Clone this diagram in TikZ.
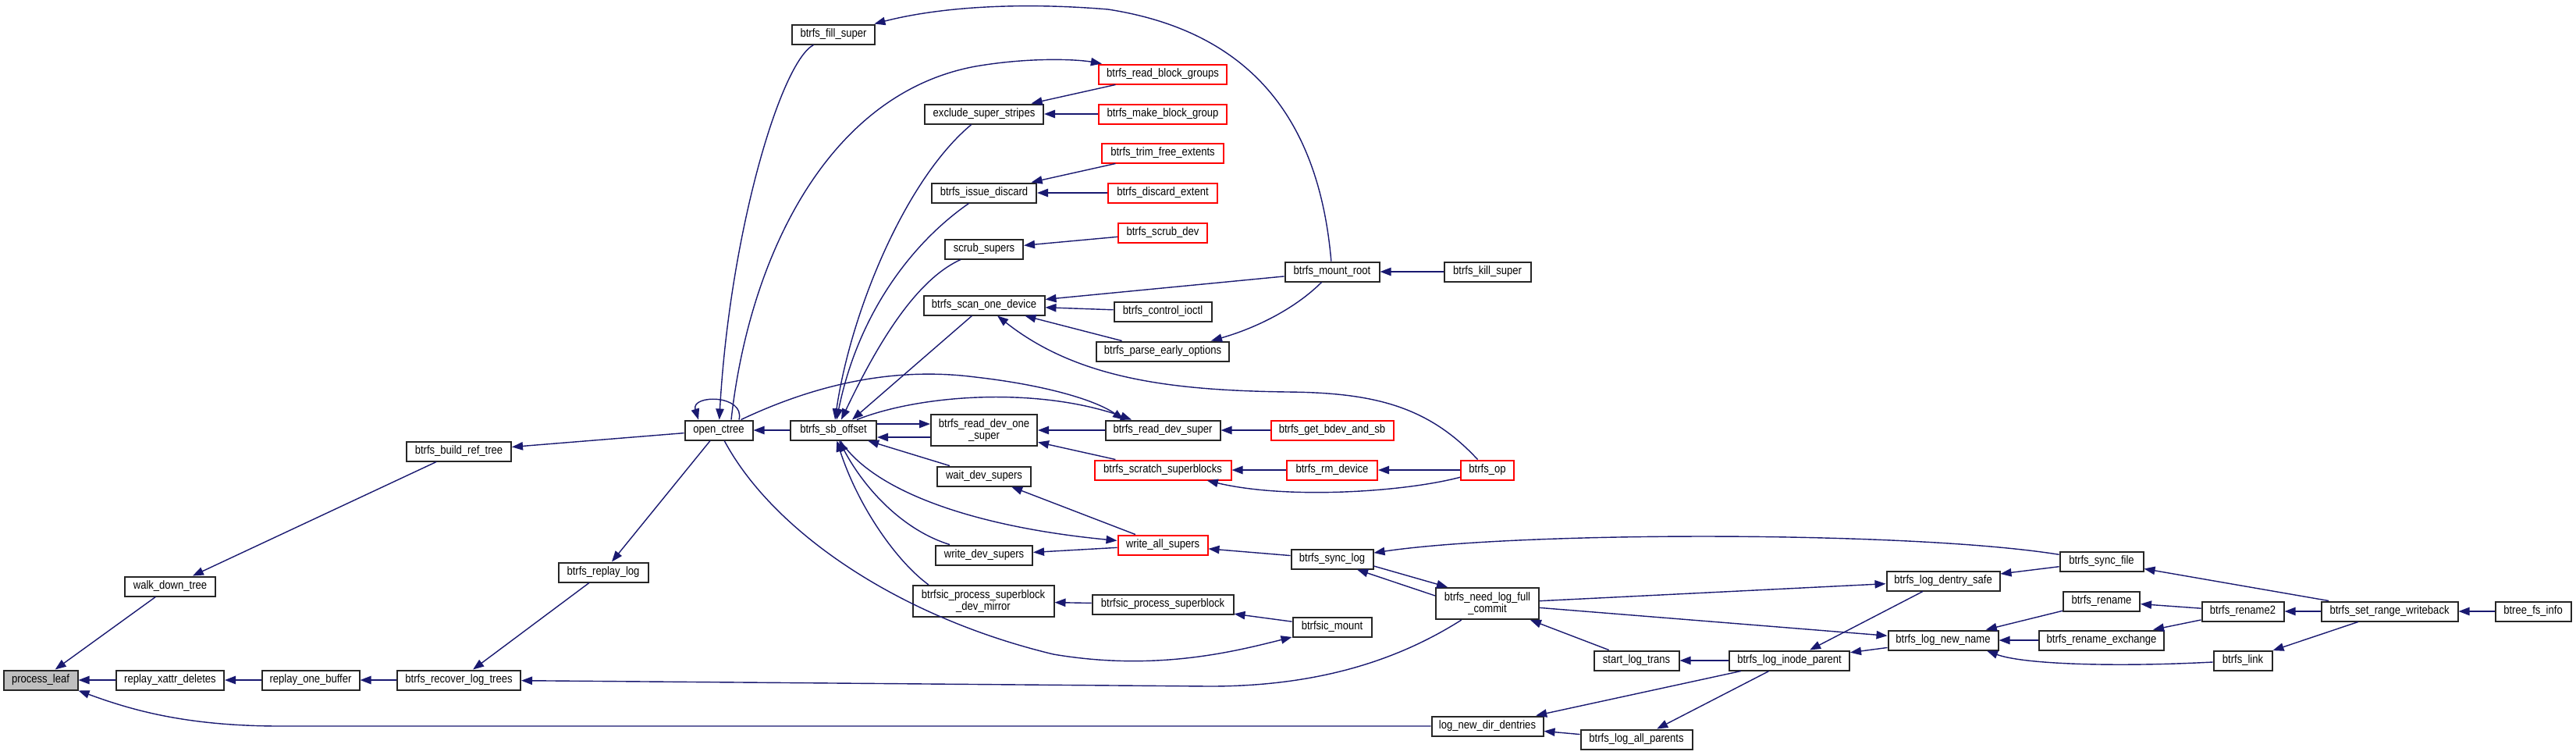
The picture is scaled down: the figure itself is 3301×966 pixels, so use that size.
\documentclass[tikz,border=0pt]{standalone}
\usepackage{fontspec}
\setmainfont{Liberation Sans}[FakeStretch=0.87]
\usepackage{tikz}
\usetikzlibrary{arrows.meta}
\definecolor{callEdge}{HTML}{191970}
\definecolor{rootFill}{HTML}{BFBFBF}
\colorlet{boxRed}{red}
\newcommand{\fnnode}[5][fn]{\node[#1,minimum width=#4*0.5pt] (#2) at (#3) {#5};}

\begin{document}
\begin{tikzpicture}[x=0.5pt,y=-0.5pt,>={Triangle[length=7pt,width=5.2pt]},
  fn/.style={draw=black!85,line width=1pt,fill=white,inner sep=0pt,minimum height=12.5pt,
    align=center,font=\fontsize{7.5}{7.2}\selectfont},
  fnred/.style={fn,draw=boxRed},
  fnroot/.style={fn,fill=rootFill},
  fn2/.style={fn,minimum height=20pt},
  call/.style={->,draw=callEdge,line width=0.7pt}]
\useasboundingbox (0,0) rectangle (3301,966);
% ranks 0-6
\fnnode[fnroot]{processLeaf}{52,871}{95}{process\_leaf}
\fnnode{walkDownTree}{218,751}{116}{walk\_down\_tree}
\fnnode{xattrDeletes}{218,871}{138}{replay\_xattr\_deletes}
\fnnode{oneBuffer}{398,871}{125}{replay\_one\_buffer}
\fnnode{buildRefTree}{588,578}{134}{btrfs\_build\_ref\_tree}
\fnnode{recoverLogTrees}{588,871}{158}{btrfs\_recover\_log\_trees}
\fnnode{replayLog}{773,733}{115}{btrfs\_replay\_log}
\fnnode{openCtree}{921,551}{87}{open\_ctree}
\fnnode{fillSuper}{1068,44}{106}{btrfs\_fill\_super}
\fnnode{sbOffset}{1068,551}{110}{btrfs\_sb\_offset}
% rank 7
\fnnode{excludeSuperStripes}{1261,146}{152}{exclude\_super\_stripes}
\fnnode{issueDiscard}{1261,247}{134}{btrfs\_issue\_discard}
\fnnode{scrubSupers}{1261,319}{100}{scrub\_supers}
\fnnode{scanOneDevice}{1261,391}{155}{btrfs\_scan\_one\_device}
\fnnode[fn2]{readDevOneSuper}{1261,551}{136}{btrfs\_read\_dev\_one\\\_super}
\fnnode{waitDevSupers}{1261,610}{120}{wait\_dev\_supers}
\fnnode{writeDevSupers}{1261,711}{124}{write\_dev\_supers}
\fnnode[fn2]{psDevMirror}{1260,770}{181}{btrfsic\_process\_superblock\\\_dev\_mirror}
% rank 8
\fnnode[fnred]{readBlockGroups}{1490,95}{164}{btrfs\_read\_block\_groups}
\fnnode[fnred]{makeBlockGroup}{1490,146}{164}{btrfs\_make\_block\_group}
\fnnode[fnred]{trimFreeExtents}{1490,196}{156}{btrfs\_trim\_free\_extents}
\fnnode[fnred]{discardExtent}{1490,247}{140}{btrfs\_discard\_extent}
\fnnode[fnred]{scrubDev}{1490,298}{114}{btrfs\_scrub\_dev}
\fnnode{controlIoctl}{1490,399}{125}{btrfs\_control\_ioctl}
\fnnode{parseEarlyOptions}{1490,450}{170}{btrfs\_parse\_early\_options}
\fnnode{readDevSuper}{1490,551}{147}{btrfs\_read\_dev\_super}
\fnnode[fnred]{scratchSuperblocks}{1490,602}{175}{btrfs\_scratch\_superblocks}
\fnnode[fnred]{writeAllSupers}{1490,698}{115}{write\_all\_supers}
\fnnode{processSuperblock}{1490,774}{181}{btrfsic\_process\_superblock}
% rank 9
\fnnode{mountRoot}{1707,348}{121}{btrfs\_mount\_root}
\fnnode[fnred]{getBdevAndSb}{1707,551}{157}{btrfs\_get\_bdev\_and\_sb}
\fnnode[fnred]{rmDevice}{1707,602}{116}{btrfs\_rm\_device}
\fnnode{syncLog}{1707,716}{105}{btrfs\_sync\_log}
\fnnode{btrfsicMount}{1707,803}{101}{btrfsic\_mount}
% rank 10
\fnnode{killSuper}{1906,348}{111}{btrfs\_kill\_super}
\fnnode[fnred]{btrfsOp}{1906,602}{68}{btrfs\_op}
\fnnode[fn2]{needLogFullCommit}{1906,773}{132}{btrfs\_need\_log\_full\\\_commit}
\fnnode{logNewDirDentries}{1906,930}{143}{log\_new\_dir\_dentries}
% ranks 11-17
\fnnode{startLogTrans}{2097,846}{109}{start\_log\_trans}
\fnnode{logAllParents}{2097,947}{143}{btrfs\_log\_all\_parents}
\fnnode{logInodeParent}{2293,846}{154}{btrfs\_log\_inode\_parent}
\fnnode{logDentrySafe}{2490,744}{145}{btrfs\_log\_dentry\_safe}
\fnnode{logNewName}{2490,820}{141}{btrfs\_log\_new\_name}
\fnnode{syncFile}{2693,719}{107}{btrfs\_sync\_file}
\fnnode{rename}{2693,770}{98}{btrfs\_rename}
\fnnode{renameExchange}{2693,820}{160}{btrfs\_rename\_exchange}
\fnnode{renameTwo}{2874,783}{105}{btrfs\_rename2}
\fnnode{link}{2874,846}{75}{btrfs\_link}
\fnnode{setRangeWriteback}{3062,783}{175}{btrfs\_set\_range\_writeback}
\fnnode{btreeFsInfo}{3246,783}{97}{btree\_fs\_info}
% straight calls
\foreach \a/\b in {xattrDeletes/processLeaf, walkDownTree/processLeaf, oneBuffer/xattrDeletes,
  recoverLogTrees/oneBuffer, buildRefTree/walkDownTree, openCtree/buildRefTree,
  replayLog/recoverLogTrees, openCtree/replayLog, sbOffset/openCtree,
  readDevSuper/readDevOneSuper, getBdevAndSb/readDevSuper, scratchSuperblocks/readDevOneSuper,
  rmDevice/scratchSuperblocks, btrfsOp/rmDevice, mountRoot/scanOneDevice,
  controlIoctl/scanOneDevice, parseEarlyOptions/scanOneDevice, killSuper/mountRoot,
  readBlockGroups/excludeSuperStripes, makeBlockGroup/excludeSuperStripes,
  trimFreeExtents/issueDiscard, discardExtent/issueDiscard, scrubDev/scrubSupers,
  waitDevSupers/sbOffset, writeAllSupers/waitDevSupers, writeAllSupers/writeDevSupers,
  syncLog/writeAllSupers, processSuperblock/psDevMirror, btrfsicMount/processSuperblock,
  syncFile/logDentrySafe, needLogFullCommit/logDentrySafe, needLogFullCommit/logNewName,
  startLogTrans/needLogFullCommit, logInodeParent/startLogTrans, logDentrySafe/logInodeParent,
  logNewName/logInodeParent, logInodeParent/logNewDirDentries, logInodeParent/logAllParents,
  logAllParents/logNewDirDentries, rename/logNewName, renameExchange/logNewName,
  renameTwo/rename, renameTwo/renameExchange, setRangeWriteback/renameTwo,
  setRangeWriteback/syncFile, setRangeWriteback/link, btreeFsInfo/setRangeWriteback}
  \draw[call] (\a) -- (\b);
% curved calls
\draw[call] (logNewDirDentries) -- (360,930) .. controls (240,930) and (170,910) .. (processLeaf.south east);
\draw[call] (needLogFullCommit) .. controls (1800,840) and (1700,879) .. (1550,879) -- (recoverLogTrees);
\draw[call] ([xshift=13pt]openCtree.north) .. controls (955,505) and (885,505) .. ([xshift=-13pt]openCtree.north);
\draw[call] (fillSuper) .. controls (1000,80) and (935,300) .. (openCtree);
\draw[call] (mountRoot) .. controls (1690,150) and (1600,40) .. (1420,12) .. controls (1300,2) and (1200,10) .. (fillSuper);
\draw[call] (openCtree) .. controls (990,680) and (1150,790) .. (1350,838) .. controls (1480,860) and (1580,835) .. (btrfsicMount);
\draw[call] (openCtree) .. controls (1050,490) and (1150,470) .. (1250,483) .. controls (1330,492) and (1400,510) .. ([xshift=-25pt]readDevSuper.north);
\draw[call] ([xshift=15pt]sbOffset.north) .. controls (1180,505) and (1330,495) .. ([xshift=-20pt]readDevSuper.north);
\draw[call] ([yshift=4pt]sbOffset.east) -- ([yshift=4pt]readDevOneSuper.west);
\draw[call] ([yshift=-4.5pt]readDevOneSuper.west) -- ([yshift=-4.5pt]sbOffset.east);
\draw[call] (btrfsOp) .. controls (1800,630) and (1650,640) .. (scratchSuperblocks);
\draw[call] (btrfsOp) .. controls (1830,520) and (1760,503) .. (1650,502) .. controls (1500,500) and (1380,485) .. (scanOneDevice);
\draw[call] (mountRoot) .. controls (1660,395) and (1610,420) .. ([xshift=31pt]parseEarlyOptions.north);
\draw[call] ([xshift=8pt]openCtree.north) .. controls (960,330) and (1060,120) .. (1250,85) .. controls (1320,73) and (1380,76) .. (readBlockGroups);
\draw[call] (excludeSuperStripes) .. controls (1160,230) and (1090,400) .. ([xshift=1pt]sbOffset.north);
\draw[call] (issueDiscard) .. controls (1170,310) and (1100,400) .. ([xshift=2pt]sbOffset.north);
\draw[call] (scrubSupers) .. controls (1170,360) and (1120,450) .. ([xshift=5pt]sbOffset.north);
\draw[call] (scanOneDevice) -- ([xshift=12pt]sbOffset.north);
\draw[call] (writeDevSupers) .. controls (1160,680) and (1110,630) .. (sbOffset);
\draw[call] ([xshift=-35pt]psDevMirror.north) .. controls (1150,720) and (1100,650) .. (sbOffset);
\draw[call] (sbOffset) .. controls (1120,630) and (1250,675) .. (writeAllSupers);
\draw[call] ([yshift=-4.5pt]syncLog.east) -- ([xshift=-25.5pt]needLogFullCommit.north);
\draw[call] ([yshift=5pt]needLogFullCommit.west) -- ([xshift=16pt]syncLog.south);
\draw[call] (syncFile) .. controls (2450,680) and (1950,680) .. (syncLog);
\draw[call] (link) .. controls (2700,855) and (2590,850) .. ([xshift=28pt]logNewName.south);
\end{tikzpicture}
\end{document}
